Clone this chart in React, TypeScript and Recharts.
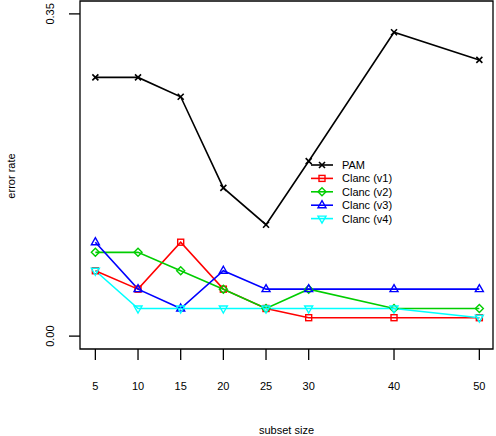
import React from "react";
import {
  LineChart,
  Line,
  XAxis,
  YAxis,
  Legend,
  Label,
  ReferenceArea,
} from "recharts";

// subset sizes on the x axis
const sizes = [5, 10, 15, 20, 25, 30, 40, 50];

// error rates per method
const pam = [0.281, 0.281, 0.26, 0.161, 0.121, 0.19, 0.33, 0.3];
const clancV1 = [0.071, 0.051, 0.102, 0.051, 0.03, 0.02, 0.02, 0.02];
const clancV2 = [0.091, 0.091, 0.071, 0.051, 0.03, 0.051, 0.03, 0.03];
const clancV3 = [0.102, 0.051, 0.03, 0.071, 0.051, 0.051, 0.051, 0.051];
const clancV4 = [0.071, 0.03, 0.03, 0.03, 0.03, 0.03, 0.03, 0.02];

const yTicks = [0, 0.35];

const FONT = '"Liberation Sans", Arial, Helvetica, sans-serif';

type Kind = "cross" | "square" | "diamond" | "up" | "down";

const series: { key: string; name: string; color: string; kind: Kind; values: number[] }[] = [
  { key: "pam", name: "PAM", color: "#000000", kind: "cross", values: pam },
  { key: "v1", name: "Clanc (v1)", color: "#ff0000", kind: "square", values: clancV1 },
  { key: "v2", name: "Clanc (v2)", color: "#00cd00", kind: "diamond", values: clancV2 },
  { key: "v3", name: "Clanc (v3)", color: "#0000ff", kind: "up", values: clancV3 },
  { key: "v4", name: "Clanc (v4)", color: "#00ffff", kind: "down", values: clancV4 },
];

const data = sizes.map((size, i) => {
  const row: Record<string, number> = { size };
  series.forEach((s) => {
    row[s.key] = s.values[i];
  });
  return row;
});

function marker(kind: Kind, cx: number, cy: number, color: string, key?: string) {
  const common = { stroke: color, strokeWidth: 1.4, fill: "none" };
  switch (kind) {
    case "cross":
      return (
        <path
          key={key}
          d={`M${cx - 3},${cy - 3}L${cx + 3},${cy + 3}M${cx - 3},${cy + 3}L${cx + 3},${cy - 3}`}
          {...common}
          strokeWidth={1.6}
        />
      );
    case "square":
      return <rect key={key} x={cx - 3} y={cy - 3} width={6} height={6} {...common} />;
    case "diamond":
      return (
        <polygon
          key={key}
          points={`${cx},${cy - 4} ${cx + 4},${cy} ${cx},${cy + 4} ${cx - 4},${cy}`}
          {...common}
        />
      );
    case "up":
      return (
        <polygon
          key={key}
          points={`${cx},${cy - 4.5} ${cx + 4},${cy + 2.5} ${cx - 4},${cy + 2.5}`}
          {...common}
        />
      );
    default:
      return (
        <polygon
          key={key}
          points={`${cx},${cy + 4.5} ${cx + 4},${cy - 2.5} ${cx - 4},${cy - 2.5}`}
          {...common}
        />
      );
  }
}

const XTick = (props: any) => {
  const { x, payload } = props;
  return (
    <text x={x} y={390} textAnchor="middle" fontSize={11} fontFamily={FONT} fill="#000">
      {payload.value}
    </text>
  );
};

const YTick = (props: any) => {
  const { y, payload } = props;
  return (
    <text
      x={54}
      y={y}
      transform={`rotate(-90, 54, ${y})`}
      textAnchor="middle"
      fontSize={11}
      fontFamily={FONT}
      fill="#000"
    >
      {payload.value.toFixed(2)}
    </text>
  );
};

const renderLegend = () => (
  <svg width={110} height={75} style={{ display: "block" }}>
    {series.map((s, i) => {
      const y = 8 + i * 13.4;
      return (
        <g key={s.key}>
          <line x1={6} x2={28} y1={y} y2={y} stroke={s.color} strokeWidth={1.6} />
          {marker(s.kind, 17, y, s.color)}
          <text x={37} y={y + 4} fontSize={11} fontFamily={FONT} fill="#000">
            {s.name}
          </text>
        </g>
      );
    })}
  </svg>
);

export default function App() {
  return (
    <div style={{ position: "absolute", left: 0, top: 0, width: 496, height: 436, background: "#fff" }}>
      <LineChart
        width={496}
        height={436}
        data={data}
        margin={{ top: 1, right: 3, left: 0, bottom: 0 }}
      >
        <XAxis
          dataKey="size"
          type="number"
          domain={[3.2, 51.6]}
          ticks={sizes}
          height={87}
          axisLine={false}
          tickLine={{ stroke: "#000", strokeWidth: 1.3 }}
          tickSize={11}
          tick={<XTick />}
          interval={0}
        >
          <Label
            content={() => (
              <text x={286.5} y={434} textAnchor="middle" fontSize={11} fontFamily={FONT} fill="#000">
                subset size
              </text>
            )}
          />
        </XAxis>
        <YAxis
          type="number"
          domain={[-0.014, 0.364]}
          ticks={yTicks}
          width={80}
          axisLine={false}
          tickLine={{ stroke: "#000", strokeWidth: 1.3 }}
          tickSize={11}
          tick={<YTick />}
          interval={0}
        >
          <Label
            content={() => (
              <text
                x={15}
                y={176}
                transform="rotate(-90, 15, 176)"
                textAnchor="middle"
                fontSize={11}
                fontFamily={FONT}
                fill="#000"
              >
                error rate
              </text>
            )}
          />
        </YAxis>
        <ReferenceArea
          x1={3.2}
          x2={51.6}
          y1={-0.014}
          y2={0.364}
          fill="none"
          stroke="#000"
          strokeWidth={1.3}
        />
        {series.map((s) => (
          <Line
            key={s.key}
            dataKey={s.key}
            name={s.name}
            type="linear"
            stroke={s.color}
            strokeWidth={1.6}
            isAnimationActive={false}
            dot={(p: any) => marker(s.kind, p.cx, p.cy, s.color, `${s.key}-${p.index}`)}
            activeDot={false}
          />
        ))}
        <Legend
          layout="vertical"
          align="center"
          verticalAlign="middle"
          content={renderLegend}
          wrapperStyle={{ left: 305, top: 157, width: 110, height: 75 }}
        />
      </LineChart>
    </div>
  );
}
